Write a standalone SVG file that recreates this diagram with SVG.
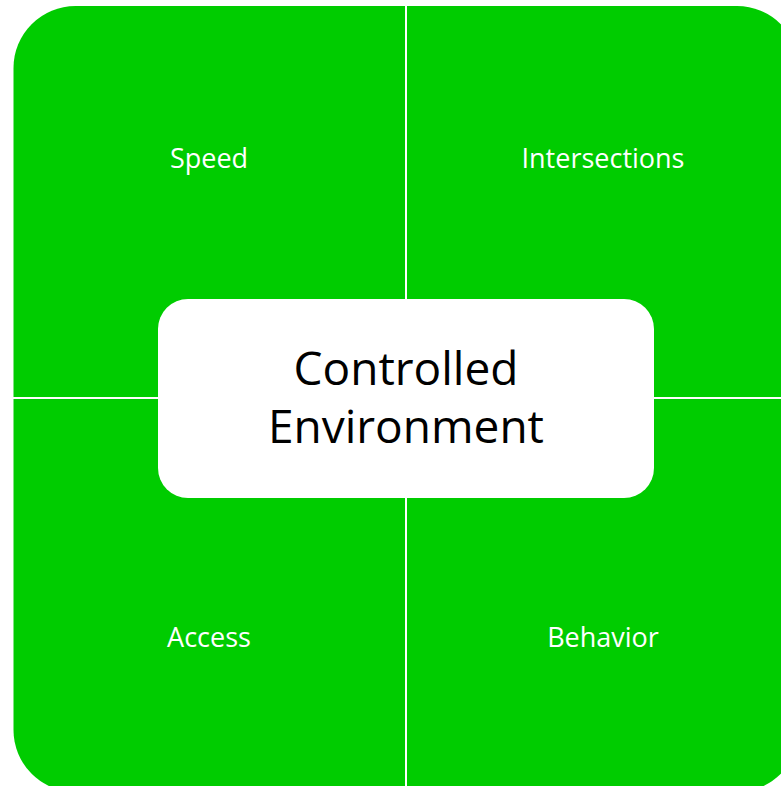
<svg xmlns="http://www.w3.org/2000/svg" width="781" height="786" viewBox="0 0 781 786">
<style>
.q{fill:#00CC00}
.lbl{font-family:"Open Sans","Liberation Sans",sans-serif;font-size:27px;fill:#FFFFFF;text-anchor:middle}
.ctr{font-family:"Open Sans","Liberation Sans",sans-serif;font-size:46px;fill:#000000;text-anchor:middle}
</style>
<rect width="781" height="786" fill="#FFFFFF"/>
<g id="speed">
<path class="q" d="M13.5,397 V68 A62,62 0 0 1 75.5,6 H405 V397 Z"/>
<text class="lbl" x="209" y="167.5">Speed</text>
</g>
<g id="intersections">
<path class="q" d="M407,6 H737 A62,62 0 0 1 799,68 V397 H407 Z"/>
<text class="lbl" x="603" y="167.5">Intersections</text>
</g>
<g id="access">
<path class="q" d="M13.5,399 H405 V792 H75.5 A62,62 0 0 1 13.5,730 Z"/>
<text class="lbl" x="209" y="647">Access</text>
</g>
<g id="behavior">
<path class="q" d="M407,399 H799 V730 A62,62 0 0 1 737,792 H407 Z"/>
<text class="lbl" x="603" y="647">Behavior</text>
</g>
<g id="controlled-environment">
<rect x="158" y="299" width="496" height="199" rx="30" ry="30" fill="#FFFFFF"/>
<text class="ctr" x="406" y="385">Controlled</text>
<text class="ctr" x="406" y="443">Environment</text>
</g>
<g id="connectors"></g>
</svg>
